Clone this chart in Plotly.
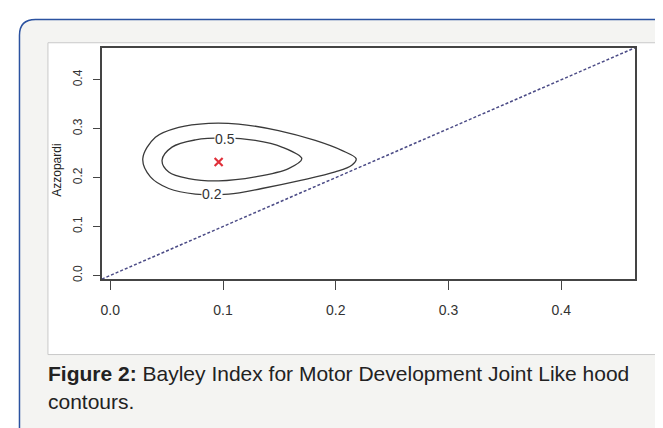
import plotly.graph_objects as go

# ---- data ----
axis_lo, axis_hi = -0.0075, 0.4655
tick_vals = [0.0, 0.1, 0.2, 0.3, 0.4]
tick_text = ["0.0", "0.1", "0.2", "0.3", "0.4"]

diag_x = [axis_lo, axis_hi]
diag_y = [axis_lo, axis_hi]

c02_x = [0.0288, 0.0400, 0.0607, 0.0872, 0.1138, 0.1492, 0.1818, 0.2053, 0.2181,
         0.2142, 0.1995, 0.1699, 0.1345, 0.1050, 0.0755, 0.0518, 0.0356, 0.0288]
c02_y = [0.2385, 0.2826, 0.3028, 0.3110, 0.3095, 0.2961, 0.2759, 0.2556, 0.2385,
         0.2252, 0.2116, 0.1947, 0.1777, 0.1663, 0.1663, 0.1777, 0.2014, 0.2385]

c05_x = [0.0459, 0.0547, 0.0755, 0.1020, 0.1286, 0.1522, 0.1699, 0.1581, 0.1286,
         0.0961, 0.0695, 0.0518, 0.0459]
c05_y = [0.2353, 0.2623, 0.2771, 0.2811, 0.2759, 0.2623, 0.2385, 0.2183, 0.2014,
         0.1933, 0.1980, 0.2116, 0.2353]

mle_x = [0.0961]
mle_y = [0.2318]

label_text = ["0.5", "0.2"]
label_x = [0.1020, 0.0902]
label_y = [0.2779, 0.1655]

W, H = 663, 428


def px(x):
    return x / W


def py(y):
    return 1 - y / H


fig = go.Figure()

fig.add_trace(go.Scatter(x=diag_x, y=diag_y, mode="lines",
                         line=dict(color="#4b4b86", width=1.5, dash="3px,2px"),
                         hoverinfo="skip", showlegend=False))
for cx, cy in [(c02_x, c02_y), (c05_x, c05_y)]:
    fig.add_trace(go.Scatter(x=cx, y=cy, mode="lines",
                             line=dict(color="#3a3a3a", width=1.3, shape="spline", smoothing=1.0),
                             hoverinfo="skip", showlegend=False))
fig.add_trace(go.Scatter(x=mle_x, y=mle_y, mode="markers",
                         marker=dict(symbol="x-thin", size=8, line=dict(color="#e0303a", width=2.2)),
                         hoverinfo="skip", showlegend=False))

for t, lx, ly in zip(label_text, label_x, label_y):
    fig.add_annotation(x=lx, y=ly, text=t, showarrow=False, bgcolor="white",
                       xanchor="center", yanchor="middle",
                       font=dict(family="Liberation Sans Narrow, Arial Narrow, Liberation Sans", size=14, color="#333"),
                       borderpad=0)

# Outer rounded box
L, T, R, B, r = 10.5, 11.5, 700, 440, 16
path = (f"M {px(L)} {py(T + r)} Q {px(L)} {py(T)} {px(L + r)} {py(T)} "
        f"L {px(R)} {py(T)} L {px(R)} {py(B)} L {px(L + r)} {py(B)} "
        f"Q {px(L)} {py(B)} {px(L)} {py(B - r)} Z")
fig.add_shape(type="path", path=path, xref="paper", yref="paper",
              fillcolor="#f4f4f2", line=dict(color="#2b52a0", width=1.5), layer="below")
# inner white panel
fig.add_shape(type="rect", xref="paper", yref="paper", x0=px(39), x1=px(650), y0=py(349), y1=py(35),
              fillcolor="white", line=dict(color="#c9c9c9", width=1), layer="below")

fig.add_annotation(xref="paper", yref="paper", x=px(48), y=py(163), text="Azzopardi", textangle=-90,
                   xanchor="center", yanchor="middle",
                   showarrow=False, font=dict(family="Liberation Sans, Arial", size=12, color="#222"))

fig.add_annotation(xref="paper", yref="paper", x=px(37), y=py(368), xanchor="left", yanchor="middle",
                   text="<b>Figure 2:</b> Bayley Index for Motor Development Joint Like hood",
                   showarrow=False, font=dict(family="Liberation Sans, Arial", size=21, color="#222"))
fig.add_annotation(xref="paper", yref="paper", x=px(37), y=py(396), xanchor="left", yanchor="middle",
                   text="contours.", showarrow=False,
                   font=dict(family="Liberation Sans, Arial", size=21, color="#222"))

fig.update_layout(
    width=W, height=H, margin=dict(l=0, r=0, t=0, b=0),
    paper_bgcolor="white", plot_bgcolor="rgba(0,0,0,0)",
    xaxis=dict(domain=[px(93), px(627)], range=[axis_lo, axis_hi], tickvals=tick_vals, ticktext=tick_text,
               ticks="outside", ticklen=9, tickwidth=1, tickcolor="#444", showline=True, mirror=True,
               linecolor="#444", linewidth=1.5, showgrid=False, zeroline=False,
               tickfont=dict(family="Liberation Sans Narrow, Arial Narrow, Liberation Sans", size=14, color="#333"),
               ticklabelstandoff=8),
    yaxis=dict(domain=[py(273), py(40)], range=[axis_lo, axis_hi], tickvals=tick_vals, ticktext=tick_text,
               ticks="outside", ticklen=7, tickwidth=1, tickcolor="#444", showline=True, mirror=True,
               linecolor="#444", linewidth=1.5, showgrid=False, zeroline=False, tickangle=-90,
               tickfont=dict(family="Liberation Sans, Arial", size=12, color="#333"),
               ticklabelstandoff=6),
)

fig.write_html("out.html")
